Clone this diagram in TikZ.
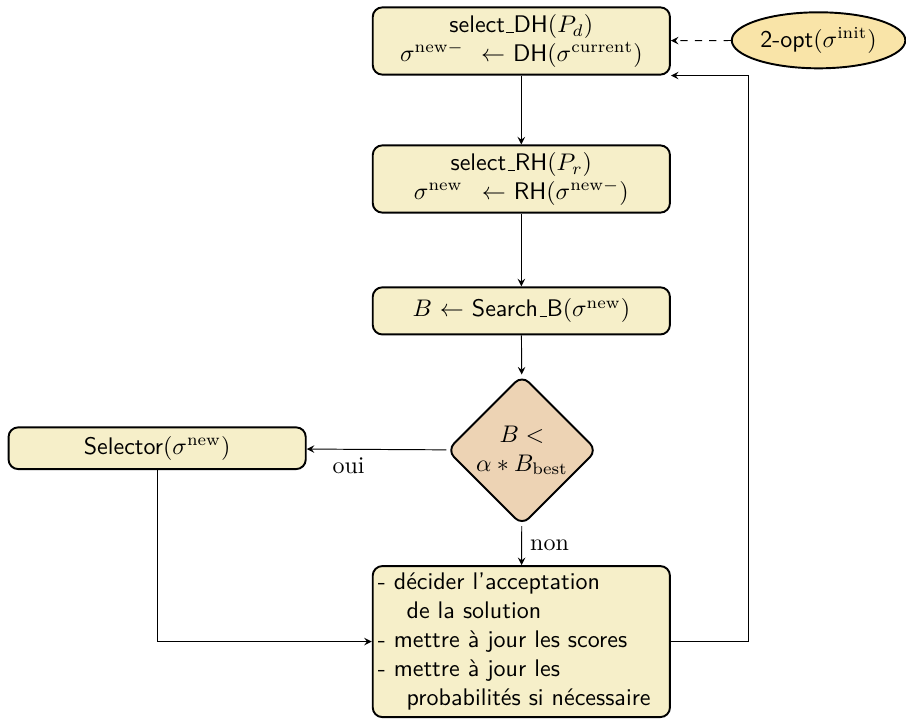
\documentclass[tikz,border=0pt]{standalone}
\usepackage{fontspec}
\usetikzlibrary{shapes.geometric}
\definecolor{boxfill}{RGB}{246,239,201}
\definecolor{testfill}{RGB}{237,211,180}
\definecolor{initfill}{RGB}{249,228,168}
\newcommand{\usbar}{\leavevmode\kern.06em\vbox{\hrule width.3em}}
\begin{document}
\begin{tikzpicture}[
  stepbox/.style={draw, thick, rounded corners=4pt, fill=boxfill, font=\sffamily, text width=4.1cm, align=center, inner xsep=0.125cm, inner ysep=3pt, minimum height=0.69cm},
  test/.style={diamond, draw, thick, rounded corners=4pt, fill=testfill, aspect=1, minimum size=2.2cm, inner sep=0pt, align=center},
  start/.style={ellipse, draw, thick, fill=initfill, font=\sffamily, minimum width=2.54cm, minimum height=0.82cm, inner sep=1pt},
  line/.style={->, >=stealth}]
\useasboundingbox (0,0) rectangle (13.26,-10.54);
\node[stepbox] (dh) at (7.63,-0.6) {select\usbar DH$(P_d)$\\ $\sigma^{\mathrm{new}-}\ \leftarrow$ DH$(\sigma^{\mathrm{current}})$};
\node[start] (init) at (11.98,-0.59) {2-opt$(\sigma^{\mathrm{init}})$};
\node[stepbox] (rh) at (7.63,-2.62) {select\usbar RH$(P_r)$\\ $\sigma^{\mathrm{new}}\ \leftarrow$ RH$(\sigma^{\mathrm{new}-})$};
\node[stepbox] (search) at (7.63,-4.55) {$B$ $\leftarrow$ Search\usbar B$(\sigma^{\mathrm{new}})$};
\node[test] (cond) at (7.64,-6.59) {$B<$\\ $\alpha*B_{\mathrm{best}}$};
\node[stepbox, minimum height=0.61cm] (sel) at (2.30,-6.56) {Selector$(\sigma^{\mathrm{new}})$};
\node[stepbox, align=left, text width=4.2cm, inner xsep=0.075cm] (upd) at (7.63,-9.39) {- décider l'acceptation\\ \hspace*{1.2em}de la solution\\ - mettre à jour les scores\\ - mettre à jour les\\ \hspace*{1.2em}probabilités si nécessaire};
\draw[line, dashed] (init) -- (dh);
\draw[line] (dh) -- (rh);
\draw[line] (rh) -- (search);
\draw[line] (search) -- (cond);
\draw[line] (cond) -- node[pos=0.7, below] {oui} (sel);
\draw[line] (cond) -- node[right] {non} (upd);
\draw[line] (sel.south) |- (upd.west);
\draw[line] (upd.east) -- ++(1.14,0) |- (dh.south east);
\end{tikzpicture}
\end{document}
